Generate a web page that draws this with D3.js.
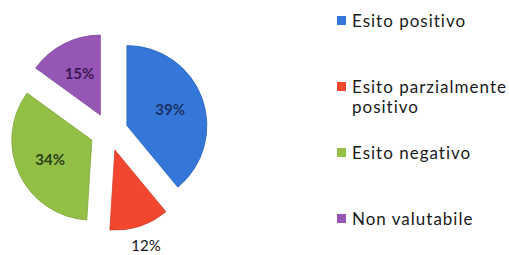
<!DOCTYPE html>
<meta charset="utf-8">
<html>
<head>
<script type="text/javascript" src="https://d3js.org/d3.v7.js"></script>
</head>
<body style="margin:0;background:#fff">
<div id="plotArea"></div>
<script>
  // data
  const categories = ['Esito positivo', 'Esito parzialmente positivo', 'Esito negativo', 'Non valutabile'];
  const legendLines = [['Esito positivo'], ['Esito parzialmente', 'positivo'], ['Esito negativo'], ['Non valutabile']];
  const values = [39, 12, 34, 15];
  const colors = ['#3477d8', '#f2472e', '#93bf47', '#9556b6'];
  const labelColors = ['#1c2f66', '#111111', '#2a3f17', '#3d1752'];

  const width = 509, height = 255;
  const cx = 109, cy = 132, r = 80, explode = 19;

  const svg = d3.select('#plotArea').append('svg')
    .attr('width', width).attr('height', height)
    .style('font-family', 'Lato, "Open Sans", sans-serif');

  const pie = d3.pie().sort(null).value(d => d);
  const arcs = pie(values);
  const arc = d3.arc().innerRadius(0).outerRadius(r);

  const g = svg.append('g').attr('transform', `translate(${cx},${cy})`);

  function offset(d, dist) {
    const a = (d.startAngle + d.endAngle) / 2;
    return [Math.sin(a) * dist, -Math.cos(a) * dist];
  }

  const slice = g.selectAll('g.slice').data(arcs).enter().append('g')
    .attr('class', 'slice')
    .attr('transform', d => `translate(${offset(d, explode)})`);

  slice.append('path')
    .attr('d', arc)
    .attr('fill', (d, i) => colors[i])
    .attr('stroke', (d, i) => d3.color(colors[i]).darker(0.4))
    .attr('stroke-width', 0.8);

  // labels: inside ones bold, the small red slice gets its label outside
  slice.append('text')
    .attr('transform', (d, i) => {
      const p = offset(d, i == 1 ? 101 : 46);
      return `translate(${p})`;
    })
    .attr('text-anchor', 'middle')
    .attr('dy', '0.35em')
    .style('font-size', '15px')
    .style('font-weight', (d, i) => i == 1 ? 'normal' : 'bold')
    .attr('fill', (d, i) => labelColors[i])
    .text(d => d.data + '%');

  // legend
  const legendX = 337, legendTop = 16, legendStep = 66;
  const leg = svg.selectAll('g.leg').data(categories).enter().append('g')
    .attr('class', 'leg')
    .attr('transform', (d, i) => `translate(${legendX},${legendTop + i * legendStep})`);

  leg.append('rect')
    .attr('width', 9).attr('height', 9)
    .attr('fill', (d, i) => colors[i]);

  leg.append('text')
    .attr('x', 15).attr('y', 11)
    .style('font-size', '17px')
    .style('letter-spacing', '1px')
    .attr('fill', '#1a1a1a')
    .selectAll('tspan')
    .data((d, i) => legendLines[i])
    .enter().append('tspan')
    .attr('x', 15)
    .attr('dy', (d, j) => j == 0 ? 0 : 20)
    .text(d => d);
</script>
</body>
</html>
